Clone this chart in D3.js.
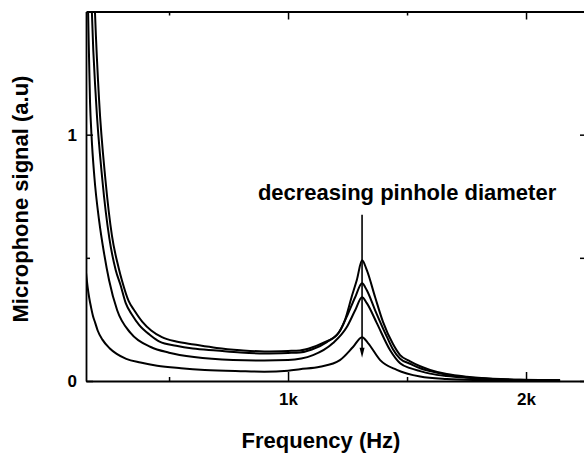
<!DOCTYPE html>
<html>
<head>
<meta charset="utf-8">
<script src="https://cdn.jsdelivr.net/npm/d3@7"></script>
<style>
  body { margin: 0; background: #fff; }
  svg text { font-family: "Liberation Sans", Arial, Helvetica, sans-serif; font-weight: bold; fill: #000; }
  .axis path, .axis line { stroke: #000; }
</style>
</head>
<body>
<svg id="chart" width="584" height="455"></svg>
<script>
// tick values and labels
const xMajor = [1000, 2000];
const xLabels = ["1k", "2k"];
const xMinor = [500, 1500];
const yMajor = [0, 1];
const yLabels = ["0", "1"];
const yMinor = [0.5];

// [frequency (Hz), signal (a.u)], largest pinhole first
const curveA = [[177, 1.85], [189, 1.49], [206, 1.14], [233, 0.814], [260, 0.59], [288, 0.46], [303, 0.405],
  [330, 0.325], [355, 0.285], [388, 0.24], [425, 0.205], [470, 0.178], [530, 0.16], [605, 0.148], [700, 0.134],
  [800, 0.125], [900, 0.12], [1000, 0.122], [1050, 0.124], [1100, 0.136], [1147, 0.155], [1205, 0.186],
  [1239, 0.247], [1268, 0.344], [1289, 0.41], [1311, 0.49], [1331, 0.45], [1366, 0.34], [1399, 0.24],
  [1441, 0.15], [1471, 0.105], [1513, 0.08], [1555, 0.06], [1597, 0.045], [1667, 0.028], [1751, 0.017],
  [1861, 0.009], [1975, 0.005], [2143, 0.003]];
const curveB = [[167, 1.85], [176, 1.49], [193, 1.14], [220, 0.814], [249, 0.58], [276, 0.45], [296, 0.39],
  [318, 0.316], [345, 0.268], [374, 0.228], [420, 0.187], [460, 0.16], [530, 0.143], [600, 0.132], [700, 0.124],
  [800, 0.116], [900, 0.112], [1000, 0.114], [1050, 0.116], [1100, 0.128], [1163, 0.158], [1218, 0.204],
  [1252, 0.273], [1282, 0.34], [1311, 0.397], [1331, 0.368], [1366, 0.287], [1415, 0.18], [1440, 0.13],
  [1471, 0.09], [1513, 0.07], [1555, 0.052], [1597, 0.04], [1667, 0.025], [1751, 0.015], [1861, 0.008],
  [1975, 0.005], [2143, 0.003]];
const curveC = [[152, 1.85], [160, 1.49], [168, 1.13], [174, 1.0], [186, 0.83], [206, 0.652], [227, 0.518],
  [248, 0.409], [282, 0.287], [339, 0.194], [423, 0.138], [500, 0.115], [605, 0.097], [769, 0.085],
  [900, 0.083], [1000, 0.085], [1105, 0.105], [1189, 0.154], [1247, 0.219], [1282, 0.287], [1311, 0.34],
  [1331, 0.316], [1373, 0.235], [1429, 0.125], [1471, 0.072], [1513, 0.052], [1555, 0.04], [1597, 0.03],
  [1667, 0.02], [1751, 0.013], [1861, 0.007], [1975, 0.004], [2143, 0.003]];
const curveD = [[151, 0.44], [158, 0.38], [165, 0.335], [172, 0.30], [180, 0.265], [190, 0.235], [200, 0.205],
  [220, 0.168], [250, 0.133], [280, 0.11], [320, 0.09], [380, 0.075], [450, 0.062], [550, 0.052], [650, 0.045],
  [800, 0.04], [900, 0.038], [1000, 0.042], [1050, 0.048], [1134, 0.058], [1218, 0.085], [1273, 0.138],
  [1311, 0.178], [1336, 0.154], [1387, 0.085], [1457, 0.045], [1555, 0.018], [1667, 0.008], [1800, 0.004],
  [2000, 0.002], [2143, 0.002]];
const curves = [curveA, curveB, curveC, curveD];

const peakFreq = 1311;
const note = "decreasing pinhole diameter";

const svg = d3.select("#chart");
const mLeft = 86, mRight = 586, mTop = 11.5, mBottom = 381;

const x = d3.scaleLinear().domain([151, 2252]).range([mLeft, mRight]);
const y = d3.scaleLinear().domain([0, 1.5]).range([mBottom, mTop]);

svg.append("defs").append("clipPath").attr("id", "plot")
  .append("rect").attr("x", mLeft).attr("y", mTop).attr("width", mRight - mLeft).attr("height", mBottom - mTop);

// bottom axis
svg.append("g").attr("class", "axis").attr("transform", `translate(0,${mBottom})`)
  .call(d3.axisBottom(x).tickValues(xMajor).tickSize(-9).tickSizeOuter(0).tickPadding(12)
    .tickFormat((d, i) => xLabels[i]))
  .call(g => g.selectAll("text").style("font-size", "17px"));
svg.append("g").attr("class", "axis").attr("transform", `translate(0,${mBottom})`)
  .call(d3.axisBottom(x).tickValues(xMinor).tickSize(-4).tickFormat(""))
  .call(g => g.select(".domain").remove());

// top axis
svg.append("g").attr("class", "axis").attr("transform", `translate(0,${mTop})`)
  .call(d3.axisTop(x).tickValues(xMajor).tickSize(-8).tickSizeOuter(0).tickFormat(""));
svg.append("g").attr("class", "axis").attr("transform", `translate(0,${mTop})`)
  .call(d3.axisTop(x).tickValues(xMinor).tickSize(-4).tickFormat(""))
  .call(g => g.select(".domain").remove());

// left axis
svg.append("g").attr("class", "axis").attr("transform", `translate(${mLeft},0)`)
  .call(d3.axisLeft(y).tickValues(yMajor).tickSize(-7).tickSizeOuter(0).tickPadding(9)
    .tickFormat((d, i) => yLabels[i]))
  .call(g => g.selectAll("text").style("font-size", "17px"));
svg.append("g").attr("class", "axis").attr("transform", `translate(${mLeft},0)`)
  .call(d3.axisLeft(y).tickValues(yMinor).tickSize(-4).tickFormat(""))
  .call(g => g.select(".domain").remove());

// right axis (mostly off the page)
svg.append("g").attr("class", "axis").attr("transform", `translate(${mRight},0)`)
  .call(d3.axisRight(y).tickValues(yMajor.concat(yMinor)).tickSize(-6).tickSizeOuter(0).tickFormat(""));

svg.selectAll(".axis .domain").attr("stroke-width", 1.8);
svg.selectAll(".axis .tick line").attr("stroke-width", 1.5);

const line = d3.line()
  .x(d => x(d[0]))
  .y(d => y(d[1]))
  .curve(d3.curveMonotoneX);

svg.append("g").attr("clip-path", "url(#plot)")
  .selectAll("path")
  .data(curves)
  .enter().append("path")
    .attr("d", line)
    .attr("fill", "none")
    .attr("stroke", "#000")
    .attr("stroke-width", 2)
    .attr("stroke-linejoin", "round");

// arrow through the peaks
const ax = x(peakFreq), tip = y(0.094);
svg.append("line")
  .attr("x1", ax).attr("x2", ax)
  .attr("y1", y(0.675)).attr("y2", tip - 6)
  .attr("stroke", "#000").attr("stroke-width", 1.6);
svg.append("path")
  .attr("d", `M${ax - 2.5},${tip - 10}L${ax + 2.5},${tip - 10}L${ax},${tip}Z`)
  .attr("fill", "#000");

svg.append("text")
  .attr("x", ax + 45)
  .attr("y", y(0.735))
  .attr("text-anchor", "middle")
  .style("font-size", "22px")
  .text(note);

// axis titles
svg.append("text")
  .attr("x", 321)
  .attr("y", 448)
  .attr("text-anchor", "middle")
  .style("font-size", "22px")
  .text("Frequency (Hz)");

svg.append("text")
  .attr("transform", "translate(28,199) rotate(-90)")
  .attr("text-anchor", "middle")
  .style("font-size", "22px")
  .text("Microphone signal (a.u)");
</script>
</body>
</html>
